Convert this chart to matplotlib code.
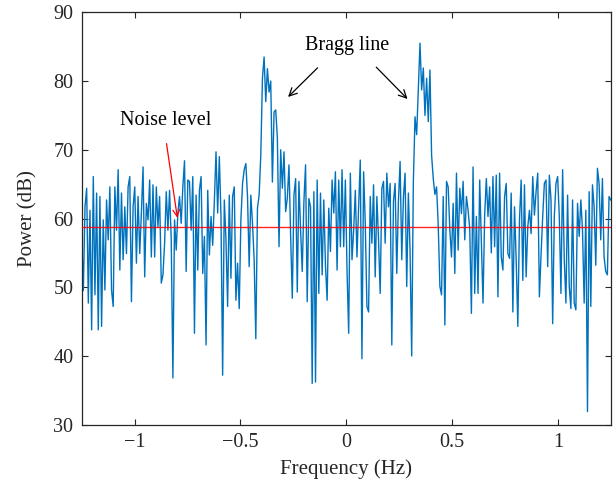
import numpy as np
import matplotlib.pyplot as plt

# power spectrum (dB), 320 bins from -1.25 to 1.25 Hz
power_db = [
    # -1.25 .. -0.74 Hz
    57.5, 49.5, 61.7, 64.4, 47.7, 61.2, 43.8, 66.1, 48.9, 63.7, 43.8, 63.2, 44.3, 59.8, 49.6, 62.7,
    56.9, 64.6, 49.6, 47.2, 64.6, 58.3, 67.1, 52.5, 63.7, 54.0, 61.7, 54.9, 64.6, 66.1, 47.9, 61.7,
    64.6, 53.5, 63.2, 54.9, 60.8, 67.5, 51.5, 62.2, 59.8, 65.6, 54.4, 64.9, 54.4, 64.6, 58.8, 63.2,
    50.6, 51.8, 56.4, 63.9, 58.3, 64.1, 56.9, 36.8, 59.8, 55.4, 60.8, 63.2, 59.3, 64.6, 68.4, 52.3,
    65.6,
    # -0.74 .. -0.24 Hz (negative Bragg line)
    65.4, 58.3, 66.1, 43.3, 63.4, 52.5, 64.1, 66.1, 52.0, 57.4, 41.6, 64.1, 54.7, 60.3, 56.1, 62.5,
    69.7, 60.8, 69.0, 60.3, 37.2, 62.7, 56.9, 47.2, 63.4, 51.3, 63.2, 64.6, 48.1, 53.5, 46.9, 59.8,
    65.1, 67.1, 68.0, 63.2, 53.0, 63.4, 59.3, 54.0, 42.5, 61.5, 63.4, 69.2, 80.4, 83.5, 77.0, 81.8,
    78.4, 80.0, 65.3, 75.5, 75.8, 71.7, 55.9, 70.0, 64.4, 69.7, 61.0, 63.0, 67.8, 57.5, 48.4, 63.4,
    # -0.24 .. 0.25 Hz
    65.8, 49.3, 65.4, 58.3, 52.3, 62.5, 67.8, 47.9, 62.9, 61.7, 36.0, 63.9, 36.2, 65.6, 49.1, 63.7,
    51.8, 62.7, 53.2, 48.1, 61.5, 55.2, 65.6, 60.8, 66.8, 52.5, 65.6, 55.9, 67.1, 55.9, 65.6, 52.5,
    43.3, 66.6, 54.0, 58.3, 64.1, 54.4, 61.7, 68.5, 39.6, 66.8, 59.3, 47.2, 46.4, 63.2, 56.4, 64.9,
    51.5, 63.2, 56.9, 49.1, 64.4, 65.4, 56.4, 66.6, 61.7, 65.1, 41.6, 62.5, 65.1, 52.0, 62.5,
    # 0.25 .. 0.75 Hz (positive Bragg line)
    68.3, 54.0, 63.0, 66.6, 50.1, 63.7, 55.4, 40.0, 65.4, 74.8, 72.2, 78.7, 85.5, 78.7, 81.9, 75.0,
    80.4, 74.1, 81.6, 69.2, 65.8, 63.5, 64.6, 59.0, 50.1, 48.9, 63.2, 44.5, 65.4, 64.6, 58.3, 54.4,
    62.2, 52.0, 66.6, 55.4, 64.4, 60.7, 65.4, 56.9, 63.2, 61.2, 58.5, 46.2, 67.5, 49.1, 60.3, 49.1,
    65.6, 56.9, 47.7, 60.5, 65.8, 60.3, 64.6, 55.0, 66.1, 55.9, 66.3, 48.6, 66.6, 54.4, 52.5, 63.2,
    # 0.75 .. 1.25 Hz
    65.1, 54.9, 54.2, 63.7, 46.4, 61.7, 54.0, 44.3, 59.8, 65.6, 51.0, 64.9, 51.5, 58.8, 61.2, 57.8,
    66.1, 60.5, 63.9, 66.6, 48.6, 54.7, 60.3, 65.1, 65.6, 53.0, 66.3, 62.7, 44.7, 60.3, 65.1, 66.1,
    60.3, 49.1, 67.1, 54.0, 47.7, 63.4, 50.1, 46.9, 62.7, 47.7, 46.7, 62.2, 57.4, 62.7, 58.3, 47.7,
    61.2, 31.9, 63.9, 47.2, 64.9, 61.7, 53.2, 67.3, 65.1, 56.9, 65.8, 54.4, 52.3, 51.8, 63.2, 62.7,
]
freq = np.linspace(-1.25, 1.25, len(power_db))
noise_level = 58.7

plt.rcParams['font.family'] = ['Liberation Serif', 'DejaVu Serif']

fig = plt.figure(figsize=(6.16, 4.88), dpi=100)
ax = fig.add_axes([0.1326, 0.1297, 0.8588, 0.8451])

ax.plot(freq, power_db, color='#0072BD', linewidth=1.0, zorder=2)
ax.axhline(noise_level, color='#ff0000', linewidth=1.0, alpha=0.85, zorder=3)

ax.set_xlim(-1.25, 1.25)
ax.set_ylim(30, 90)
ax.set_xticks([-1, -0.5, 0, 0.5, 1])
ax.set_xticklabels(['\u22121', '\u22120.5', '0', '0.5', '1'])
ax.set_yticks(np.arange(30, 91, 10))
ax.tick_params(direction='in', length=4, width=0.8, top=True, right=True,
               labelsize=14.5, colors='#262626', pad=6)
for s in ax.spines.values():
    s.set_color('#262626')
    s.set_linewidth(0.9)

ax.set_xlabel('Frequency (Hz)', fontsize=15, color='#262626', labelpad=5)
ax.set_ylabel('Power (dB)', fontsize=15, color='#262626', labelpad=11)

# annotations
ax.text(0.003, 85.1, 'Bragg line', fontsize=14.5, ha='center', va='center')
ax.annotate('', xy=(-0.284, 77.4), xytext=(-0.126, 82.2),
            arrowprops=dict(arrowstyle='->', color='black', lw=0.9, mutation_scale=14))
ax.annotate('', xy=(0.299, 77.1), xytext=(0.133, 82.3),
            arrowprops=dict(arrowstyle='->', color='black', lw=0.9, mutation_scale=14))
ax.text(-0.854, 74.2, 'Noise level', fontsize=14.5, ha='center', va='center')
ax.annotate('', xy=(-0.796, 59.7), xytext=(-0.851, 71.3),
            arrowprops=dict(arrowstyle='->', color='#ff0000', lw=0.9, mutation_scale=12))

fig.savefig('out.png', dpi=100)
